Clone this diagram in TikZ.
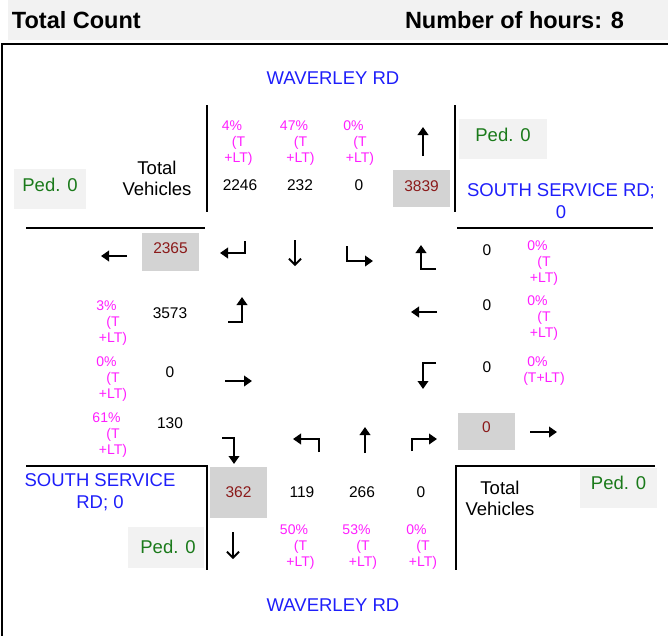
\documentclass[tikz,border=0pt]{standalone}
\usepackage{fontspec}
\setmainfont{Liberation Sans}
\usetikzlibrary{arrows.meta}
\definecolor{pedgreen}{RGB}{26,122,26}
\definecolor{roadblue}{RGB}{30,30,250}
\definecolor{pctmag}{RGB}{255,30,255}
\definecolor{cntred}{RGB}{139,26,26}
\definecolor{boxgray}{RGB}{211,211,211}
\definecolor{pedgray}{RGB}{242,242,242}
\newcommand{\rs}[2]{\raisebox{#1}[\height][\depth]{#2}}
\newcommand{\pcttxt}[1]{#1\hspace*{13pt}\\(T\\+LT)}
\begin{document}
\begin{tikzpicture}[x=1pt,y=-1pt,
  every node/.style={inner sep=0pt,outer sep=0pt},
  hdr/.style={font=\fontsize{23.5}{25}\selectfont\bfseries,anchor=west},
  num/.style={font=\fontsize{15.5}{18}\selectfont},
  pct/.style={text=pctmag,font=\fontsize{14}{16.3}\selectfont,align=center},
  tv/.style={font=\fontsize{18.5}{21}\selectfont,align=center},
  road/.style={text=roadblue,font=\fontsize{18.5}{22}\selectfont,align=center},
  pedbox/.style={fill=pedgray,text=pedgreen,font=\fontsize{18.5}{21}\selectfont},
  cntbox/.style={fill=boxgray,text=cntred,font=\fontsize{15.5}{18}\selectfont,minimum width=57pt,minimum height=37pt},
  roadedge/.style={line width=2.6pt},
  arr/.style={line width=2.6pt,-{Triangle[length=8pt,width=10.5pt]}},
  thinarr/.style={line width=1.9pt,-{Straight Barb[length=6pt,width=12pt]}}
]
\useasboundingbox (0,0) rectangle (668,635);
% header
\fill[pedgray] (8,0) rectangle (668,40);
\node[hdr] (title) at (12,20) {Total Count};
\node[hdr] (hours) at (405,20) {Number of hours: 8};
% frame
\draw[line width=2.4pt] (2,636) -- (2,44) -- (668,44);
% road edges
\draw[roadedge] (207,105) -- (207,212);
\draw[roadedge] (26,228) -- (205,228);
\draw[roadedge] (455,105) -- (455,212);
\draw[roadedge] (457,228) -- (653,228);
\draw[roadedge] (26,466) -- (207,466) -- (207,570);
\draw[roadedge] (655,466) -- (456,466) -- (456,570);
% road names
\node[road] (rdN) at (333,78) {WAVERLEY RD};
\node[road] (rdS) at (333,605) {WAVERLEY RD};
\node[road] (rdE) at (561,201) {SOUTH SERVICE RD;\\0};
\node[road] (rdW) at (100,492) {SOUTH SERVICE\\RD; 0};
% pedestrians
\node[pedbox,minimum width=72pt,minimum height=40pt] (pedNW) at (50,189) {\rs{4pt}{Ped. 0}};
\node[pedbox,minimum width=88pt,minimum height=40pt] (pedNE) at (503,139) {\rs{4pt}{Ped. 0}};
\node[pedbox,minimum width=76pt,minimum height=41pt] (pedSW) at (165.5,547.5) {\hspace*{5pt}\rs{1pt}{Ped. 0}};
\node[pedbox,minimum width=77pt,minimum height=40pt] (pedSE) at (618.5,488) {\rs{5pt}{Ped. 0}};
% total vehicles labels
\node[tv] (tvNW) at (157,178.5) {Total\\Vehicles};
\node[tv] (tvSE) at (500,498.5) {Total\\Vehicles};
% north approach
\node[pct] (pN1) at (238.5,143) {\pcttxt{4\%}};
\node[pct] (pN2) at (300.5,143) {\pcttxt{47\%}};
\node[pct] (pN3) at (360,143) {\pcttxt{0\%}};
\node[num] (nN1) at (240,185) {2246};
\node[num] (nN2) at (300,185) {232};
\node[num] (nN3) at (359,185) {0};
\node[cntbox] (cN) at (421.5,188.5) {\rs{2pt}{3839}};
% west approach
\node[cntbox,minimum height=38pt] (cW) at (170.5,252) {\rs{4pt}{2365}};
\node[pct] (pW1) at (113,323) {\pcttxt{3\%}};
\node[pct] (pW2) at (113,379) {\pcttxt{0\%}};
\node[pct] (pW3) at (113,435) {\pcttxt{61\%}};
\node[num] (nW1) at (170,313) {3573};
\node[num] (nW2) at (170,372) {0};
\node[num] (nW3) at (170,423) {130};
% east approach
\node[num] (nE1) at (487,250) {0};
\node[num] (nE2) at (487,305) {0};
\node[num] (nE3) at (487,367) {0};
\node[pct] (pE1) at (544,263) {\pcttxt{0\%}};
\node[pct] (pE2) at (544,318) {\pcttxt{0\%}};
\node[pct] (pE3) at (544,371) {0\%\hspace*{13pt}\\(T+LT)};
\node[cntbox] (cE) at (486.5,431.5) {\rs{4pt}{0}};
% south approach
\node[cntbox,minimum height=51pt] (cS) at (238.5,492.5) {362};
\node[num] (nS1) at (302,492) {119};
\node[num] (nS2) at (362,492) {266};
\node[num] (nS3) at (421,492) {0};
\node[pct] (pS1) at (300.5,547) {\pcttxt{50\%}};
\node[pct] (pS2) at (363,547) {\pcttxt{53\%}};
\node[pct] (pS3) at (423,547) {\pcttxt{0\%}};
% movement arrows
\draw[arr] (423,156) -- (423,127);
\draw[arr] (127,256) -- (101,256);
\draw[arr] (530,432) -- (557,432);
\draw[thinarr] (233,532) -- (233,559);
% row 1
\draw[arr] (245,241) -- (245,253) -- (220,253);
\draw[thinarr] (295,240) -- (295,266);
\draw[arr] (347,246) -- (347,261) -- (373,261);
\draw[arr] (436,269) -- (421,269) -- (421,245);
% row 2
\draw[arr] (228,322) -- (242,322) -- (242,297);
\draw[arr] (437,312) -- (411,312);
% row 3
\draw[arr] (225,381) -- (252,381);
\draw[arr] (436,363) -- (423,363) -- (423,389);
% row 4
\draw[arr] (222,438) -- (234,438) -- (234,464);
\draw[arr] (319,452) -- (319,439) -- (293,439);
\draw[arr] (365,453) -- (365,427);
\draw[arr] (412,451) -- (412,439) -- (437,439);
\end{tikzpicture}
\end{document}
